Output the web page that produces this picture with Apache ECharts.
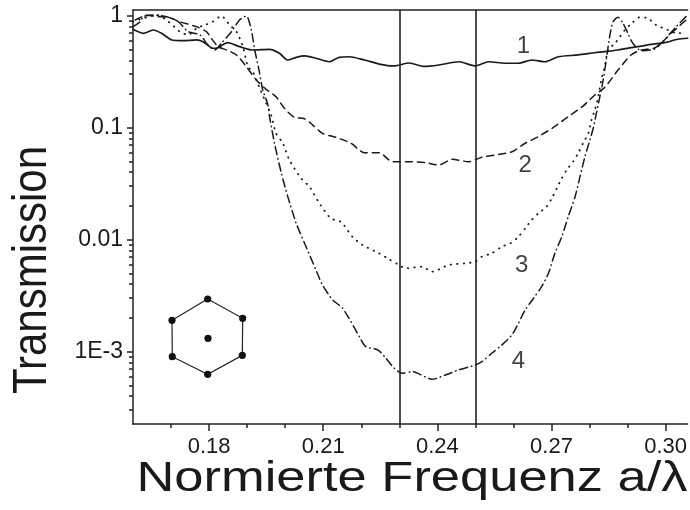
<!DOCTYPE html>
<html>
<head>
<meta charset="utf-8">
<script src="https://cdn.jsdelivr.net/npm/echarts@6/dist/echarts.min.js"></script>
<style>
  html, body { margin: 0; padding: 0; background: #fff; }
  #chart { width: 690px; height: 510px; }
</style>
</head>
<body>
<div id="chart"></div>
<script>
// Transmission spectra of a hexagonal photonic lattice, four structures (1–4)
const freq1 = [0.1600, 0.1627, 0.1653, 0.1675, 0.1702, 0.1732, 0.1767, 0.1784, 0.1810, 0.1823, 0.1849, 0.1880, 0.1914, 0.1959, 0.1985, 0.2006, 0.2029, 0.2051, 0.2081, 0.2116, 0.2142, 0.2168, 0.2208, 0.2247, 0.2286, 0.2326, 0.2365, 0.2404, 0.2457, 0.2500, 0.2535, 0.2579, 0.2613, 0.2648, 0.2683, 0.2718, 0.2770, 0.2814, 0.2840, 0.2875, 0.2910, 0.2962, 0.2997, 0.3032, 0.3058];
const trans1 = [0.756, 0.696, 0.745, 0.696, 0.607, 0.598, 0.607, 0.586, 0.512, 0.518, 0.574, 0.529, 0.494, 0.501, 0.462, 0.402, 0.425, 0.437, 0.417, 0.388, 0.425, 0.430, 0.402, 0.370, 0.356, 0.378, 0.352, 0.363, 0.388, 0.356, 0.388, 0.376, 0.376, 0.402, 0.388, 0.430, 0.446, 0.467, 0.477, 0.494, 0.518, 0.555, 0.574, 0.616, 0.629];

const freq2 = [0.1606, 0.1636, 0.1666, 0.1693, 0.1723, 0.1767, 0.1793, 0.1806, 0.1824, 0.1846, 0.1872, 0.1898, 0.1924, 0.1950, 0.1976, 0.1998, 0.2024, 0.2051, 0.2072, 0.2098, 0.2134, 0.2173, 0.2208, 0.2247, 0.2282, 0.2334, 0.2369, 0.2404, 0.2439, 0.2482, 0.2517, 0.2552, 0.2596, 0.2631, 0.2665, 0.2705, 0.2744, 0.2783, 0.2814, 0.2840, 0.2875, 0.2909, 0.2936, 0.2971, 0.2997, 0.3024, 0.3054];
const trans2 = [0.915, 1.01, 0.98, 0.968, 0.884, 0.798, 0.720, 0.628, 0.529, 0.494, 0.446, 0.350, 0.267, 0.220, 0.189, 0.149, 0.124, 0.120, 0.106, 0.0891, 0.0818, 0.0726, 0.0598, 0.0598, 0.0497, 0.0497, 0.0487, 0.0464, 0.0522, 0.0497, 0.0544, 0.0570, 0.0610, 0.0726, 0.0831, 0.1004, 0.1254, 0.156, 0.196, 0.229, 0.327, 0.446, 0.494, 0.515, 0.607, 0.745, 0.915];

const freq3 = [0.1600, 0.1627, 0.1662, 0.1693, 0.1723, 0.1745, 0.1767, 0.1789, 0.1810, 0.1832, 0.1854, 0.1872, 0.1889, 0.1902, 0.1915, 0.1933, 0.1950, 0.1963, 0.1976, 0.1994, 0.2011, 0.2042, 0.2064, 0.2090, 0.2120, 0.2147, 0.2177, 0.2203, 0.2247, 0.2273, 0.2295, 0.2317, 0.2359, 0.2386, 0.2430, 0.2474, 0.2500, 0.2517, 0.2543, 0.2570, 0.2592, 0.2613, 0.2631, 0.2648, 0.2666, 0.2687, 0.2701, 0.2714, 0.2727, 0.2740, 0.2757, 0.2770, 0.2783, 0.2797, 0.2805, 0.2814, 0.2823, 0.2831, 0.2840, 0.2849, 0.2867, 0.2880, 0.2893, 0.2911, 0.2932, 0.2954, 0.2975, 0.3006, 0.3032, 0.3053];
const trans3 = [0.884, 0.948, 1.015, 0.884, 0.720, 0.673, 0.772, 0.826, 0.884, 0.994, 0.826, 0.720, 0.529, 0.351, 0.316, 0.225, 0.165, 0.130, 0.0891, 0.0726, 0.0515, 0.0353, 0.0297, 0.0211, 0.0155, 0.0144, 0.0106, 0.00897, 0.00756, 0.00668, 0.00607, 0.00556, 0.00574, 0.00518, 0.00594, 0.00615, 0.00637, 0.00705, 0.00756, 0.00866, 0.00929, 0.0106, 0.0126, 0.0150, 0.0172, 0.0197, 0.0234, 0.0288, 0.0353, 0.0419, 0.0497, 0.0591, 0.0726, 0.0891, 0.117, 0.144, 0.189, 0.267, 0.351, 0.494, 0.567, 0.649, 0.745, 0.855, 0.968, 0.948, 0.826, 0.745, 0.696, 0.715];

const freq4 = [0.1600, 0.1619, 0.1627, 0.1653, 0.1688, 0.1719, 0.1745, 0.1776, 0.1797, 0.1815, 0.1832, 0.1859, 0.1880, 0.1898, 0.1911, 0.1920, 0.1933, 0.1941, 0.1954, 0.1959, 0.1972, 0.1990, 0.2007, 0.2029, 0.2051, 0.2081, 0.2098, 0.2125, 0.2151, 0.2173, 0.2195, 0.2212, 0.2243, 0.2264, 0.2286, 0.2308, 0.2334, 0.2386, 0.2421, 0.2456, 0.2500, 0.2517, 0.2543, 0.2570, 0.2596, 0.2613, 0.2631, 0.2653, 0.2674, 0.2692, 0.2709, 0.2727, 0.2744, 0.2762, 0.2775, 0.2788, 0.2801, 0.2810, 0.2818, 0.2827, 0.2836, 0.2844, 0.2853, 0.2862, 0.2875, 0.2888, 0.2901, 0.2914, 0.2936, 0.2971, 0.2997, 0.3027, 0.3058];
const trans4 = [0.798, 0.884, 0.980, 1.015, 0.980, 0.884, 0.720, 0.673, 0.547, 0.494, 0.567, 0.720, 0.915, 0.994, 0.745, 0.494, 0.306, 0.217, 0.163, 0.125, 0.0726, 0.0392, 0.0242, 0.0140, 0.00929, 0.00536, 0.00394, 0.00290, 0.00244, 0.00185, 0.00136, 0.00111, 0.00104, 0.000879, 0.000715, 0.000641, 0.000663, 0.000567, 0.000619, 0.000687, 0.000761, 0.000814, 0.000968, 0.00115, 0.00141, 0.00179, 0.00236, 0.00300, 0.00380, 0.00501, 0.00756, 0.0106, 0.0160, 0.0242, 0.0365, 0.0551, 0.0777, 0.0994, 0.134, 0.188, 0.267, 0.402, 0.649, 0.884, 0.968, 0.855, 0.696, 0.567, 0.487, 0.504, 0.607, 0.793, 1.015];

// Edges of the marked frequency window
const bandEdges = [0.2286, 0.2516];

// Curve identifiers and where they sit
const curveNames = ['1', '2', '3', '4'];
const curveLabelX = [0.2626, 0.2631, 0.2622, 0.2613];
const curveLabelY = [0.529, 0.0464, 0.00586, 0.000814];

// Axis ticks
const xMajorTicks = [0.18, 0.21, 0.24, 0.27, 0.30];
const xMinorTicks = [0.17, 0.18, 0.19, 0.20, 0.21, 0.22, 0.23, 0.24, 0.25, 0.26, 0.27, 0.28, 0.29, 0.30];
const yMajorTicks = [0.001, 0.01, 0.1, 1];
const yTickLabels = ['1E-3', '0.01', '0.1', '1'];
const yMinorTicks = [];
[1e-4, 1e-3, 1e-2, 1e-1].forEach(function (d) {
  for (let k = 2; k <= 9; k++) yMinorTicks.push(+(k * d).toPrecision(3));
});

// Axis titles
const xTitle = 'Normierte Frequenz a/λ';
const yTitle = 'Transmission';

const X_MIN = 0.16, X_MAX = 0.3058;
const Y_MIN = 2.26e-4, Y_MAX = 1.124;

function zip(xs, ys) { return xs.map(function (x, i) { return [x, ys[i]]; }); }

const ink = '#1a1a1a';
const font = 'Liberation Sans, Arial, Helvetica, sans-serif';

const chart = echarts.init(document.getElementById('chart'), null, { renderer: 'canvas' });

function lineSeries(name, xs, ys, dash, width) {
  return {
    name: name, type: 'line', xAxisIndex: 0, yAxisIndex: 0,
    data: zip(xs, ys), showSymbol: false, smooth: 0.25,
    lineStyle: { color: ink, width: width, type: dash, cap: 'round' },
    z: 3, silent: true
  };
}

const axisLineStyle = { color: '#222', width: 1.5 };

chart.setOption({
  animation: false,
  backgroundColor: '#fff',
  grid: { left: 133, right: 0, top: 10, bottom: 86, containLabel: false },
  xAxis: [
    {
      type: 'value', min: X_MIN, max: X_MAX, position: 'bottom',
      axisLine: { show: true, lineStyle: axisLineStyle },
      axisTick: { show: true, length: 7, lineStyle: axisLineStyle, customValues: xMajorTicks },
      axisLabel: {
        show: true, customValues: xMajorTicks, fontFamily: font, fontSize: 22, color: ink, margin: 12,
        formatter: function (v) { return v.toFixed(2); }
      },
      splitLine: { show: false }
    },
    {
      type: 'value', min: X_MIN, max: X_MAX, position: 'bottom',
      axisLine: { show: false },
      axisTick: { show: true, length: 4, lineStyle: axisLineStyle, customValues: xMinorTicks },
      axisLabel: { show: false },
      splitLine: { show: false }
    },
    {
      type: 'value', min: X_MIN, max: X_MAX, position: 'top',
      axisLine: { show: true, lineStyle: axisLineStyle },
      axisTick: { show: false }, axisLabel: { show: false }, splitLine: { show: false }
    }
  ],
  yAxis: [
    {
      type: 'log', logBase: 10, min: Y_MIN, max: Y_MAX, position: 'left',
      axisLine: { show: true, lineStyle: axisLineStyle },
      axisTick: { show: true, length: 6, lineStyle: axisLineStyle, customValues: yMajorTicks },
      axisLabel: {
        show: true, customValues: yMajorTicks, fontFamily: font, fontSize: 23, color: ink, margin: 10,
        formatter: function (v) {
          let best = 0;
          yMajorTicks.forEach(function (t, i) {
            if (Math.abs(Math.log10(t) - Math.log10(v)) < Math.abs(Math.log10(yMajorTicks[best]) - Math.log10(v))) best = i;
          });
          return yTickLabels[best];
        }
      },
      splitLine: { show: false }
    },
    {
      type: 'log', logBase: 10, min: Y_MIN, max: Y_MAX, position: 'left',
      axisLine: { show: false },
      axisTick: { show: true, length: 4, lineStyle: axisLineStyle, customValues: yMinorTicks },
      axisLabel: { show: false },
      splitLine: { show: false }
    }
  ],
  series: [
    Object.assign(lineSeries('1', freq1, trans1, 'solid', 1.7), {
      markLine: {
        silent: true, symbol: ['none', 'none'], label: { show: false },
        lineStyle: { color: '#222', width: 1.6, type: 'solid' },
        emphasis: { disabled: true },
        data: bandEdges.map(function (x) { return { xAxis: x }; })
      }
    }),
    lineSeries('2', freq2, trans2, [7, 5], 1.5),
    lineSeries('3', freq3, trans3, [0.5, 6], 1.8),
    lineSeries('4', freq4, trans4, [8, 4, 0.5, 4], 1.5),
    {
      type: 'scatter', xAxisIndex: 0, yAxisIndex: 0, symbolSize: 1, silent: true,
      itemStyle: { color: 'rgba(0,0,0,0)' },
      data: curveNames.map(function (n, i) { return { value: [curveLabelX[i], curveLabelY[i]], name: n }; }),
      label: {
        show: true, position: 'inside', formatter: '{b}',
        fontFamily: font, fontSize: 24, color: '#111', textBorderWidth: 0
      },
      z: 5
    }
  ],
  graphic: [
    {
      type: 'text', x: 412, y: 479, scaleX: 1.22, z: 10, silent: true,
      style: {
        text: xTitle, fill: ink, font: '43px ' + font,
        align: 'center', verticalAlign: 'middle'
      }
    },
    {
      type: 'text', x: 33, y: 270, rotation: Math.PI / 2, scaleY: 1.15, z: 10, silent: true,
      style: {
        text: yTitle, fill: ink, font: '42px ' + font,
        align: 'center', verticalAlign: 'middle'
      }
    },
    {
      type: 'group', x: 172, y: 299, z: 10, silent: true,
      children: [
        {
          type: 'polygon',
          shape: { points: [[35.7, 0], [70.7, 19.3], [70.3, 56.3], [35.7, 75.3], [0.3, 57.7], [0, 21.3]] },
          style: { fill: 'none', stroke: '#222', lineWidth: 1.2 }
        },
        { type: 'circle', shape: { cx: 35.7, cy: 0, r: 3.6 }, style: { fill: '#111' } },
        { type: 'circle', shape: { cx: 70.7, cy: 19.3, r: 3.6 }, style: { fill: '#111' } },
        { type: 'circle', shape: { cx: 70.3, cy: 56.3, r: 3.6 }, style: { fill: '#111' } },
        { type: 'circle', shape: { cx: 35.7, cy: 75.3, r: 3.6 }, style: { fill: '#111' } },
        { type: 'circle', shape: { cx: 0.3, cy: 57.7, r: 3.6 }, style: { fill: '#111' } },
        { type: 'circle', shape: { cx: 0, cy: 21.3, r: 3.6 }, style: { fill: '#111' } },
        { type: 'circle', shape: { cx: 36, cy: 39.3, r: 3.6 }, style: { fill: '#111' } }
      ]
    }
  ]
});
</script>
</body>
</html>
